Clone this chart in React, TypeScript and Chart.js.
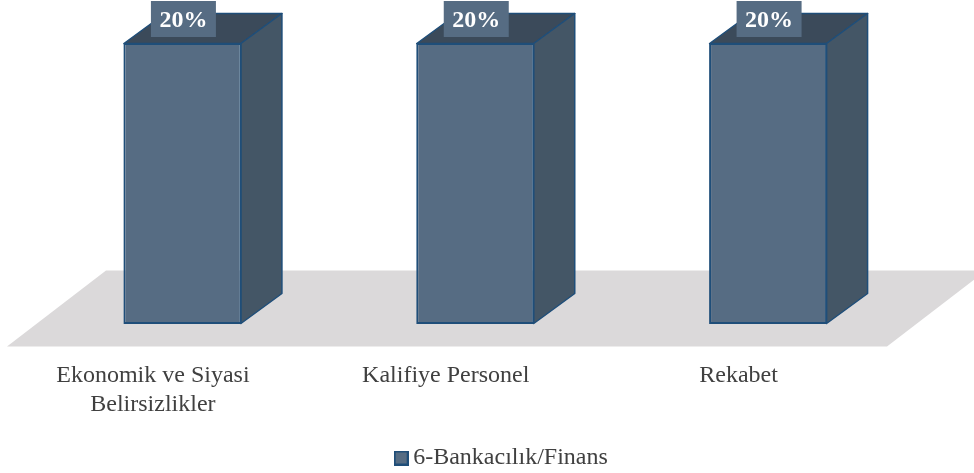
import React, { useEffect, useRef } from "react";
import { Chart, registerables } from "chart.js";

Chart.register(...registerables);

const categories = [["Ekonomik ve Siyasi", "Belirsizlikler"], ["Kalifiye Personel"], ["Rekabet"]];
const seriesName = "6-Bankacılık/Finans";
const values = [20, 20, 20];

const FRONT = "#566c83";
const TOP = "#3b4a5a";
const SIDE = "#445666";
const EDGE = "#1f4e79";
const FLOOR = "#dbd9da";
const TEXT = "#404040";
const FONT = "'Liberation Serif'";
const DX = 41;
const DY = -30;

const makeSwatch = () => {
  const c = document.createElement("canvas");
  c.width = 15;
  c.height = 15;
  const g = c.getContext("2d")!;
  g.fillStyle = FRONT;
  g.fillRect(0, 0, 15, 15);
  g.strokeStyle = EDGE;
  g.lineWidth = 2;
  g.strokeRect(1, 1, 13, 13);
  return c;
};

const poly = (ctx: CanvasRenderingContext2D, pts: number[][], fill: string, stroke?: string) => {
  ctx.beginPath();
  pts.forEach(([x, y], i) => (i ? ctx.lineTo(x, y) : ctx.moveTo(x, y)));
  ctx.closePath();
  ctx.fillStyle = fill;
  ctx.fill();
  if (stroke) {
    ctx.strokeStyle = stroke;
    ctx.lineWidth = 1.5;
    ctx.lineJoin = "round";
    ctx.stroke();
  }
};

const box3d = {
  id: "box3d",
  beforeDatasetsDraw(chart: any) {
    const { ctx, chartArea: a } = chart;
    const base = a.bottom;
    ctx.save();
    poly(ctx, [
      [a.left - 29, base + 22.5],
      [a.right - 27.5, base + 22.5],
      [a.right + 71.5, base - 53.5],
      [a.left + 70, base - 53.5],
    ], FLOOR);
    chart.getDatasetMeta(0).data.forEach((bar: any) => {
      const hw = bar.width / 2;
      const l = bar.x - hw + 0.5;
      const r = bar.x + hw - 0.5;
      const t = bar.y + 0.5;
      const b = bar.base - 0.5;
      poly(ctx, [[l, t], [r, t], [r + DX, t + DY], [l + DX, t + DY]], TOP, EDGE);
      poly(ctx, [[r, t], [r + DX, t + DY], [r + DX, b + DY], [r, b]], SIDE, EDGE);
    });
    ctx.restore();
  },
  afterDatasetsDraw(chart: any) {
    const { ctx } = chart;
    ctx.save();
    chart.getDatasetMeta(0).data.forEach((bar: any, i: number) => {
      const cx = bar.x + 1;
      const cy = bar.y - 24;
      ctx.fillStyle = FRONT;
      ctx.fillRect(cx - 32.5, cy - 18, 65, 36);
      ctx.fillStyle = "#ffffff";
      ctx.font = `bold 24px ${FONT}`;
      ctx.textAlign = "center";
      ctx.textBaseline = "middle";
      ctx.fillText(`${values[i]}%`, cx, cy + 2);
    });
    ctx.restore();
  },
};

export default function App() {
  const ref = useRef<HTMLCanvasElement>(null);
  useEffect(() => {
    const chart = new Chart(ref.current!, {
      type: "bar",
      plugins: [box3d],
      data: {
        labels: categories,
        datasets: [
          {
            label: seriesName,
            data: values,
            backgroundColor: FRONT,
            borderColor: EDGE,
            borderWidth: 2,
            borderSkipped: false,
            barPercentage: 0.403,
            categoryPercentage: 1,
          },
        ],
      },
      options: {
        responsive: false,
        animation: false,
        layout: { padding: { left: 35, right: 0, top: 43, bottom: -7 } },
        plugins: {
          tooltip: { enabled: false },
          legend: {
            position: "bottom",
            labels: {
              usePointStyle: true,
              pointStyleWidth: 0.01,
              padding: 0,
              color: TEXT,
              font: { family: FONT, size: 24 },
              generateLabels: () => [
                { text: seriesName, pointStyle: makeSwatch(), fontColor: TEXT, datasetIndex: 0, hidden: false },
              ],
            },
          },
        },
        scales: {
          x: {
            grid: { display: false },
            border: { display: false },
            afterFit: (s: any) => { s.height = 122; },
            ticks: {
              autoSkip: false,
              maxRotation: 0,
              minRotation: 0,
              labelOffset: -29.5,
              padding: 29,
              color: TEXT,
              font: { family: FONT, size: 24, lineHeight: 1.22 },
            },
          },
          y: {
            min: 0,
            max: 20,
            grid: { display: false },
            border: { display: false },
            ticks: { display: false },
            afterFit: (s: any) => { s.width = 1; },
          },
          y1: {
            position: "right",
            grid: { display: false },
            border: { display: false },
            ticks: { display: false },
            afterFit: (s: any) => { s.width = 59.5; },
          },
        },
      } as any,
    });
    return () => chart.destroy();
  }, []);
  return (
    <canvas
      ref={ref}
      width={974}
      height={473}
      style={{ position: "absolute", left: 0, top: 0, display: "block" }}
    />
  );
}
